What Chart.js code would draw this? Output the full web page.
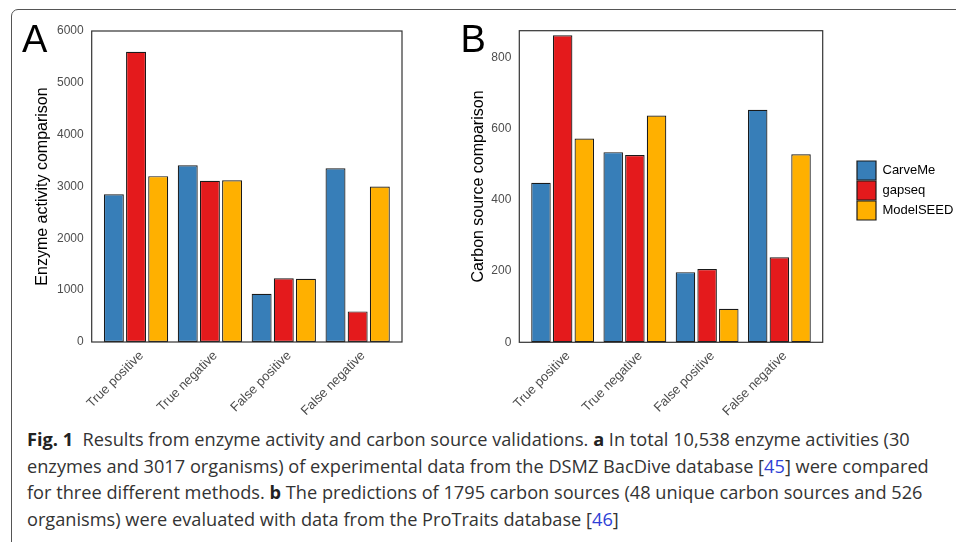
<!DOCTYPE html>
<html><head><meta charset="utf-8">
<script src="https://cdn.jsdelivr.net/npm/chart.js@4.4.0/dist/chart.umd.min.js"></script>
<style>
html,body{margin:0;padding:0;background:#fff;width:956px;height:542px;overflow:hidden;position:relative;}
#frame{position:absolute;left:11px;top:9px;width:1000px;height:600px;border:1px solid #555;border-radius:7px;box-sizing:border-box;}
#cA{position:absolute;left:0;top:0;}
#cB{position:absolute;left:430px;top:0;}
.letter{position:absolute;top:20px;font-family:'Liberation Sans',Arial,sans-serif;font-size:38px;line-height:38px;color:#000;}
#caption{position:absolute;left:27px;top:426px;font-family:'Open Sans',sans-serif;font-size:18.2px;line-height:26.5px;color:#333;white-space:nowrap;}
#caption b{font-weight:700;color:#222;}
.ref{color:#2f3fd6;}
</style></head>
<body>
<div id="frame"></div>
<canvas id="cA" width="430" height="420"></canvas>
<canvas id="cB" width="526" height="420"></canvas>
<div class="letter" style="left:22px;">A</div>
<div class="letter" style="left:460.5px;">B</div>
<div id="caption">
<div><b>Fig. 1</b>&nbsp; Results from enzyme activity and carbon source validations. <b>a</b> In total 10,538 enzyme activities (30</div>
<div>enzymes and 3017 organisms) of experimental data from the DSMZ BacDive database [<span class="ref">45</span>] were compared</div>
<div>for three different methods. <b>b</b> The predictions of 1795 carbon sources (48 unique carbon sources and 526</div>
<div>organisms) were evaluated with data from the ProTraits database [<span class="ref">46</span>]</div>
</div>
<script>
// ---- data ----
const categories = ['True positive', 'True negative', 'False positive', 'False negative'];
const methods = ['CarveMe', 'gapseq', 'ModelSEED'];
const enzymeCarveMe   = [2850, 3410, 930, 3350];
const enzymeGapseq    = [5600, 3110, 1230, 590];
const enzymeModelSEED = [3200, 3120, 1220, 3000];
const carbonCarveMe   = [448, 534, 197, 653];
const carbonGapseq    = [862, 526, 206, 239];
const carbonModelSEED = [572, 637, 94, 528];
const enzymeTicks = [0, 1000, 2000, 3000, 4000, 5000, 6000];
const carbonTicks = [0, 200, 400, 600, 800];
const colors = ['#377EB8', '#E41A1C', '#FFB000'];

const FF = "'Liberation Sans', Arial, sans-serif";
Chart.defaults.font.family = FF;
Chart.defaults.animation = false;

function makeDatasets(series) {
  return series.map((vals, k) => ({
    label: methods[k],
    data: categories.map((c, i) => ({x: i + 1, y: vals[i]})),
    backgroundColor: colors[k],
    borderColor: '#1a1a1a',
    borderWidth: 1.2,
    borderSkipped: false,
    categoryPercentage: 0.9,
    barPercentage: 0.9
  }));
}

const boxPlugin = {
  id: 'boxPlugin',
  afterDatasetsDraw(chart) {
    const {ctx, chartArea: a} = chart;
    ctx.save();
    ctx.strokeStyle = '#333';
    ctx.lineWidth = 1.2;
    ctx.strokeRect(a.left, a.top, a.right - a.left, a.bottom - a.top);
    ctx.restore();
  }
};

function xScale(h) {
  return {
    type: 'linear', min: 0.4, max: 4.6, offset: false,
    afterBuildTicks(s) { s.ticks = categories.map((c, i) => ({value: i + 1})); },
    afterFit(s) { s.height = h; },
    grid: {display: false, drawTicks: false, offset: false},
    border: {display: false},
    ticks: {
      callback: (v, i) => categories[i],
      minRotation: 45, maxRotation: 45, autoSkip: false, padding: 6, labelOffset: 5.5,
      color: '#4d4d4d', font: {size: 13, family: FF}
    }
  };
}
function yScale(max, ticks, w, title, tpad) {
  return {
    min: 0, max: max,
    afterBuildTicks(s) { s.ticks = ticks.map(v => ({value: v})); },
    afterFit(s) { s.width = w; },
    grid: {display: false, drawTicks: false},
    border: {display: false},
    ticks: {padding: 8, color: '#4d4d4d', font: {size: 12, family: FF}, callback: v => String(v)},
    title: {display: true, text: title, color: '#000', font: {size: 16, family: FF}, padding: {top: tpad, bottom: 0}}
  };
}

new Chart(document.getElementById('cA'), {
  type: 'bar',
  data: {datasets: makeDatasets([enzymeCarveMe, enzymeGapseq, enzymeModelSEED])},
  options: {
    responsive: false,
    layout: {padding: {left: 0, top: 31, right: 28, bottom: 0}},
    plugins: {legend: {display: false}, tooltip: {enabled: false}},
    scales: {
      x: xScale(78),
      y: yScale(6000, enzymeTicks, 91.7, 'Enzyme activity comparison', 32.7)
    }
  },
  plugins: [boxPlugin]
});

// legend width measurement to place chart area of panel B exactly
const LFS = 13, LBOX = 19, LPAD = 1;
const mctx = document.createElement('canvas').getContext('2d');
mctx.font = LFS + 'px ' + FF;
const maxText = Math.max(...methods.map(m => mctx.measureText(m).width));
const legendW = LPAD + LBOX + LFS / 2 + maxText + 10;
const padRight = 526 - 392.7 - legendW;

const legendPlace = {
  id: 'legendPlace',
  afterLayout(chart) {
    const lg = chart.legend;
    if (!lg) return;
    const w = lg.width;
    lg.left = 426; lg.right = 426 + w;
    lg.top = 160; lg.bottom = 160 + 72; lg.height = 72;
  }
};

new Chart(document.getElementById('cB'), {
  type: 'bar',
  data: {datasets: makeDatasets([carbonCarveMe, carbonGapseq, carbonModelSEED])},
  options: {
    responsive: false,
    layout: {padding: {left: 0, top: 30.7, right: padRight, bottom: 0}},
    plugins: {
      tooltip: {enabled: false},
      legend: {
        position: 'right', align: 'start',
        labels: {boxWidth: LBOX, boxHeight: LBOX, padding: LPAD, color: '#000', font: {size: LFS, family: FF}}
      }
    },
    scales: {
      x: xScale(77.7),
      y: yScale(875, carbonTicks, 89.3, 'Carbon source comparison', 39.2)
    }
  },
  plugins: [boxPlugin, legendPlace]
});
</script>
</body></html>
